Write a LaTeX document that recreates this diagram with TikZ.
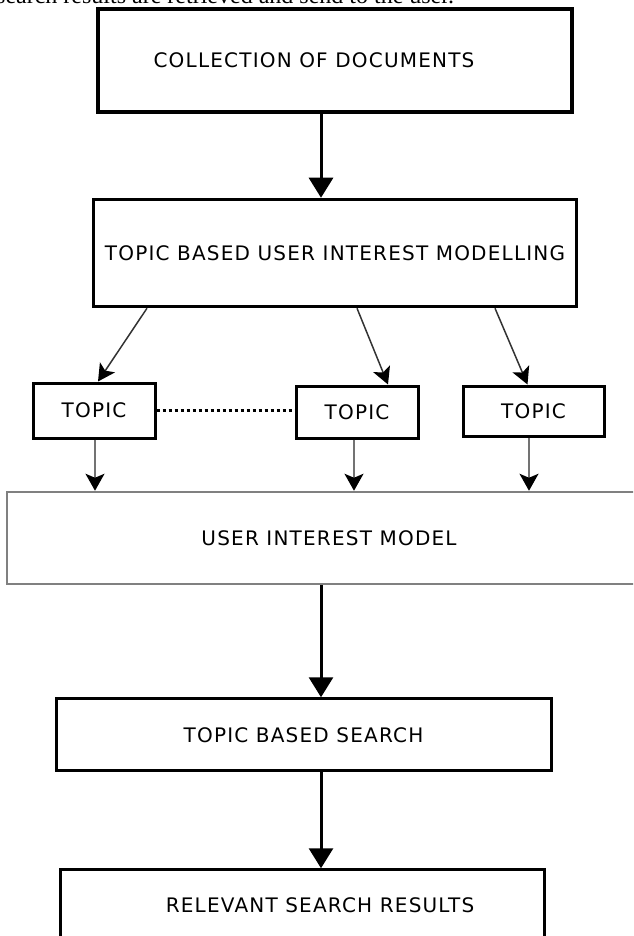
\documentclass[tikz,border=0pt]{standalone}
\usepackage{fontspec}
\setmainfont{DejaVu Sans}[LetterSpace=6]
\newfontfamily\bodyfont{Liberation Serif}
\usetikzlibrary{arrows.meta, positioning}

\begin{document}
\begin{tikzpicture}[
  x=1pt, y=1pt,
  font=\fontsize{20}{24}\selectfont,
  block/.style={rectangle, draw=black, line width=3.5pt, inner sep=0pt, align=center},
  topicbox/.style={rectangle, draw=black, line width=3pt, inner sep=0pt, minimum width=122pt, minimum height=52pt},
  arrow/.style={-{Triangle[length=20pt, width=24pt]}, line width=3pt},
  thinarrow/.style={-{Stealth[length=17pt, width=18pt, inset=4pt, color=black]}, line width=1.5pt, black!80},
  grayarrow/.style={-{Stealth[length=17pt, width=19pt, inset=4pt, color=black]}, line width=1.5pt, black!55},
  dotline/.style={line width=3pt, dash pattern=on 3pt off 3pt},
]
\useasboundingbox (0,0) rectangle (633,-936);
\clip (0,0) rectangle (633,-936);

% Text above
\node[anchor=base west, font=\bodyfont\fontsize{24}{28}\selectfont, inner sep=0pt] (caption) at (-4,-3.5)
  {search results are retrieved and send to the user.};

% Blocks
\node[block, minimum width=474pt, minimum height=103pt, text depth=-8pt] (docs) at (335,-60.5) {COLLECTION OF DOCUMENTS\hspace*{42pt}};
\node[block, minimum width=483pt, minimum height=107pt, below=84pt of docs] (model) {TOPIC BASED USER INTEREST MODELLING};

% Topics
\node[topicbox, minimum height=55pt] (t1) at (94,-410.5) {TOPIC};
\node[topicbox] (t2) at (357,-412) {TOPIC};
\node[topicbox, minimum width=141pt, minimum height=50pt] (t3) at (533.5,-411) {TOPIC};

\node[block, draw=black!50, line width=2.5pt, minimum width=660pt, minimum height=92pt] (uim) at (337,-538) {USER INTEREST MODEL\hspace*{16pt}};
\node[block, line width=3pt, minimum width=495pt, minimum height=72pt, below=112pt of uim, xshift=-33.5pt] (search) {TOPIC BASED SEARCH};
\node[block, line width=3pt, minimum width=484pt, minimum height=110pt, text depth=40pt, below=96pt of search, xshift=-1.5pt] (results) {\hspace*{36pt}RELEVANT SEARCH RESULTS};

% Connections
\coordinate (spine) at (321,0);
\draw[arrow] (docs.south -| spine) -- (model.north -| spine);
\draw[thinarrow] ([xshift=-188pt]model.south) -- ([xshift=4pt]t1.north);
\draw[thinarrow] ([xshift=22pt]model.south) -- ([xshift=31pt]t2.north);
\draw[thinarrow] ([xshift=160pt]model.south) -- ([xshift=-6pt]t3.north);
\draw[dotline] (t1.east) -- (t1.east -| t2.west);
\draw[grayarrow] ([xshift=1pt]t1.south) -- ([xshift=1pt]t1.south |- uim.north);
\draw[grayarrow] ([xshift=-3pt]t2.south) -- ([xshift=-3pt]t2.south |- uim.north);
\draw[grayarrow] ([xshift=-4.5pt]t3.south) -- ([xshift=-4.5pt]t3.south |- uim.north);
\draw[arrow] (uim.south -| spine) -- (search.north -| spine);
\draw[arrow] (search.south -| spine) -- (results.north -| spine);

\end{tikzpicture}
\end{document}
